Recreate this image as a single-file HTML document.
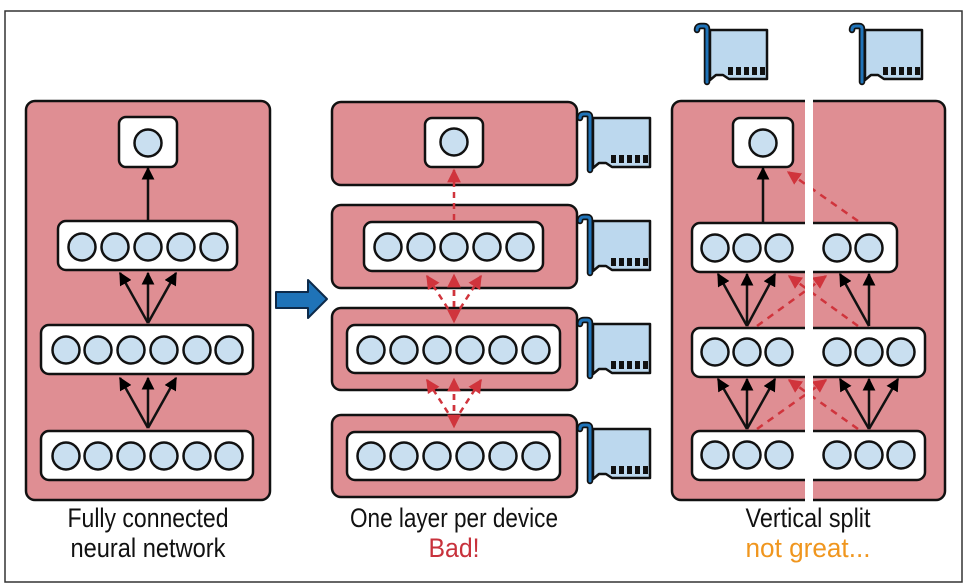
<!DOCTYPE html>
<html><head><meta charset="utf-8"><style>
html,body{margin:0;padding:0;background:#fff}
svg{display:block}
text{font-family:"Liberation Sans",sans-serif;font-size:27px}
</style></head><body>
<svg width="968" height="588" viewBox="0 0 968 588" xmlns="http://www.w3.org/2000/svg">
<defs>
<marker id="ab" viewBox="0 0 10 10" refX="9" refY="5" markerWidth="5.2" markerHeight="5.2" orient="auto" markerUnits="strokeWidth"><path d="M0,0 L10,5 L0,10 Z" fill="#000"/></marker>
<marker id="ar" viewBox="0 0 10 10" refX="9" refY="5" markerWidth="5.5" markerHeight="5.5" orient="auto" markerUnits="strokeWidth"><path d="M0,0 L10,5 L0,10 Z" fill="#d0343c"/></marker>
<g id="card">
<path d="M2,5 Q2,1 6,1 H9 Q12,1 12,4 V57" fill="none" stroke="#111" stroke-width="6.5" stroke-linecap="round"/>
<path d="M2,5 Q2,1 6,1 H9 Q12,1 12,4 V57" fill="none" stroke="#1f73b8" stroke-width="3" stroke-linecap="round"/>
<path d="M15,5 H72 V54 H34 L28,50 H21 L15,55 Z" fill="#bcd8ee" stroke="#111" stroke-width="2.5" stroke-linejoin="round"/>
<rect x="33" y="42" width="5" height="8" fill="#111"/><rect x="41" y="42" width="5" height="8" fill="#111"/><rect x="49" y="42" width="5" height="8" fill="#111"/><rect x="57" y="42" width="5" height="8" fill="#111"/><rect x="65" y="42" width="5" height="8" fill="#111"/>
</g>
</defs>
<rect x="5" y="11" width="957" height="571" fill="#fff" stroke="#333" stroke-width="1.5"/>

<g stroke="#111" stroke-width="2.5">
<rect x="26" y="101" width="244" height="399" rx="9" fill="#df8e93"/>
<rect x="119" y="117" width="58" height="50" rx="7" fill="#fff"/>
<rect x="58" y="221" width="179" height="49" rx="8" fill="#fff"/>
<rect x="41" y="325" width="212" height="49" rx="8" fill="#fff"/>
<rect x="41" y="431" width="212" height="49" rx="8" fill="#fff"/>
<g fill="#c9dff0">
<circle cx="148" cy="143" r="13.5"/>
<circle cx="82" cy="247" r="13.5"/><circle cx="115" cy="247" r="13.5"/><circle cx="148" cy="247" r="13.5"/><circle cx="181" cy="247" r="13.5"/><circle cx="214" cy="247" r="13.5"/>
<circle cx="66" cy="350" r="13.5"/><circle cx="98" cy="350" r="13.5"/><circle cx="131" cy="350" r="13.5"/><circle cx="164" cy="350" r="13.5"/><circle cx="197" cy="350" r="13.5"/><circle cx="229" cy="350" r="13.5"/>
<circle cx="66" cy="456" r="13.5"/><circle cx="98" cy="456" r="13.5"/><circle cx="131" cy="456" r="13.5"/><circle cx="164" cy="456" r="13.5"/><circle cx="197" cy="456" r="13.5"/><circle cx="229" cy="456" r="13.5"/>
</g>
</g>
<g stroke="#111" stroke-width="2.5" fill="none" marker-end="url(#ab)">
<line x1="148" y1="221" x2="148" y2="168"/>
<line x1="148" y1="323" x2="120" y2="273"/><line x1="148" y1="323" x2="148" y2="273"/><line x1="148" y1="323" x2="176" y2="273"/>
<line x1="148" y1="428" x2="120" y2="378"/><line x1="148" y1="428" x2="148" y2="378"/><line x1="148" y1="428" x2="176" y2="378"/>
</g>

<path d="M276,292 H308 V280 L327,299 L308,318 V308 H276 Z" fill="#1f73b8" stroke="#0d2a4a" stroke-width="2" stroke-linejoin="round"/>

<g stroke="#111" stroke-width="2.5">
<rect x="332" y="102" width="245" height="83" rx="9" fill="#df8e93"/>
<rect x="332" y="205" width="245" height="83" rx="9" fill="#df8e93"/>
<rect x="332" y="308" width="245" height="82" rx="9" fill="#df8e93"/>
<rect x="332" y="415" width="245" height="82" rx="9" fill="#df8e93"/>
<rect x="425" y="118" width="58" height="49" rx="7" fill="#fff"/>
<rect x="364" y="222" width="179" height="49" rx="8" fill="#fff"/>
<rect x="347" y="325" width="213" height="48" rx="8" fill="#fff"/>
<rect x="347" y="432" width="213" height="48" rx="8" fill="#fff"/>
<g fill="#c9dff0">
<circle cx="454" cy="142" r="13.5"/>
<circle cx="388" cy="247" r="13.5"/><circle cx="421" cy="247" r="13.5"/><circle cx="454" cy="247" r="13.5"/><circle cx="487" cy="247" r="13.5"/><circle cx="520" cy="247" r="13.5"/>
<circle cx="371" cy="350" r="13.5"/><circle cx="404" cy="350" r="13.5"/><circle cx="437" cy="350" r="13.5"/><circle cx="470" cy="350" r="13.5"/><circle cx="503" cy="350" r="13.5"/><circle cx="536" cy="350" r="13.5"/>
<circle cx="371" cy="456" r="13.5"/><circle cx="404" cy="456" r="13.5"/><circle cx="437" cy="456" r="13.5"/><circle cx="470" cy="456" r="13.5"/><circle cx="503" cy="456" r="13.5"/><circle cx="536" cy="456" r="13.5"/>
</g>
</g>
<g stroke="#d0343c" stroke-width="2.5" fill="none" stroke-dasharray="6,5">
<line x1="454" y1="220" x2="454" y2="170" marker-end="url(#ar)"/>
<line x1="454" y1="318" x2="427" y2="276" marker-end="url(#ar)"/><line x1="454" y1="318" x2="454" y2="275" marker-end="url(#ar)"/><line x1="454" y1="318" x2="481" y2="276" marker-end="url(#ar)"/>
<line x1="454" y1="290" x2="454" y2="322" marker-end="url(#ar)"/>
<line x1="454" y1="422" x2="427" y2="380" marker-end="url(#ar)"/><line x1="454" y1="422" x2="454" y2="379" marker-end="url(#ar)"/><line x1="454" y1="422" x2="481" y2="380" marker-end="url(#ar)"/>
<line x1="454" y1="394" x2="454" y2="427" marker-end="url(#ar)"/>
</g>
<use href="#card" x="578" y="113"/>
<use href="#card" x="578" y="216"/>
<use href="#card" x="578" y="319"/>
<use href="#card" x="578" y="424"/>

<use href="#card" x="695" y="25"/>
<use href="#card" x="850" y="25"/>
<g stroke="#111" stroke-width="2.5">
<rect x="672" y="101" width="273" height="399" rx="9" fill="#df8e93"/>
<rect x="733" y="118" width="60" height="49" rx="7" fill="#fff"/>
<rect x="692" y="223" width="205" height="49" rx="8" fill="#fff"/>
<rect x="692" y="328" width="233" height="49" rx="8" fill="#fff"/>
<rect x="692" y="431" width="233" height="49" rx="8" fill="#fff"/>
<g fill="#c9dff0">
<circle cx="763" cy="143" r="13.5"/>
<circle cx="715" cy="248" r="13.5"/><circle cx="747" cy="248" r="13.5"/><circle cx="779" cy="248" r="13.5"/><circle cx="837" cy="248" r="13.5"/><circle cx="869" cy="248" r="13.5"/>
<circle cx="715" cy="352" r="13.5"/><circle cx="747" cy="352" r="13.5"/><circle cx="779" cy="352" r="13.5"/><circle cx="837" cy="352" r="13.5"/><circle cx="869" cy="352" r="13.5"/><circle cx="901" cy="352" r="13.5"/>
<circle cx="715" cy="455" r="13.5"/><circle cx="747" cy="455" r="13.5"/><circle cx="779" cy="455" r="13.5"/><circle cx="837" cy="455" r="13.5"/><circle cx="869" cy="455" r="13.5"/><circle cx="901" cy="455" r="13.5"/>
</g>
</g>
<g stroke="#111" stroke-width="2.5" fill="none" marker-end="url(#ab)">
<line x1="763" y1="222" x2="763" y2="168"/>
<line x1="747" y1="326" x2="718" y2="274"/><line x1="747" y1="326" x2="747" y2="274"/><line x1="747" y1="326" x2="775" y2="274"/>
<line x1="869" y1="326" x2="840" y2="274"/><line x1="869" y1="326" x2="869" y2="274"/>
<line x1="747" y1="429" x2="718" y2="379"/><line x1="747" y1="429" x2="747" y2="379"/><line x1="747" y1="429" x2="775" y2="379"/>
<line x1="869" y1="429" x2="840" y2="379"/><line x1="869" y1="429" x2="869" y2="379"/><line x1="869" y1="429" x2="898" y2="379"/>
</g>
<g stroke="#d0343c" stroke-width="2.5" fill="none" stroke-dasharray="7,6" marker-end="url(#ar)">
<line x1="858" y1="221" x2="788" y2="172"/>
<line x1="757" y1="326" x2="826" y2="276"/><line x1="858" y1="326" x2="789" y2="276"/>
<line x1="757" y1="429" x2="826" y2="380"/><line x1="858" y1="429" x2="789" y2="380"/>
</g>
<rect x="805" y="95" width="8" height="410" fill="#fff"/>

<g text-anchor="middle" fill="#111">
<text x="148" y="527" textLength="161" lengthAdjust="spacingAndGlyphs">Fully connected</text>
<text x="148" y="557" textLength="155" lengthAdjust="spacingAndGlyphs">neural network</text>
<text x="454" y="527" textLength="208" lengthAdjust="spacingAndGlyphs">One layer per device</text>
<text x="454" y="557" textLength="51" lengthAdjust="spacingAndGlyphs" fill="#c8323c">Bad!</text>
<text x="808" y="527" textLength="125" lengthAdjust="spacingAndGlyphs">Vertical split</text>
<text x="808" y="557" textLength="125" lengthAdjust="spacingAndGlyphs" fill="#f0961e">not great...</text>
</g>
</svg>
</body></html>
